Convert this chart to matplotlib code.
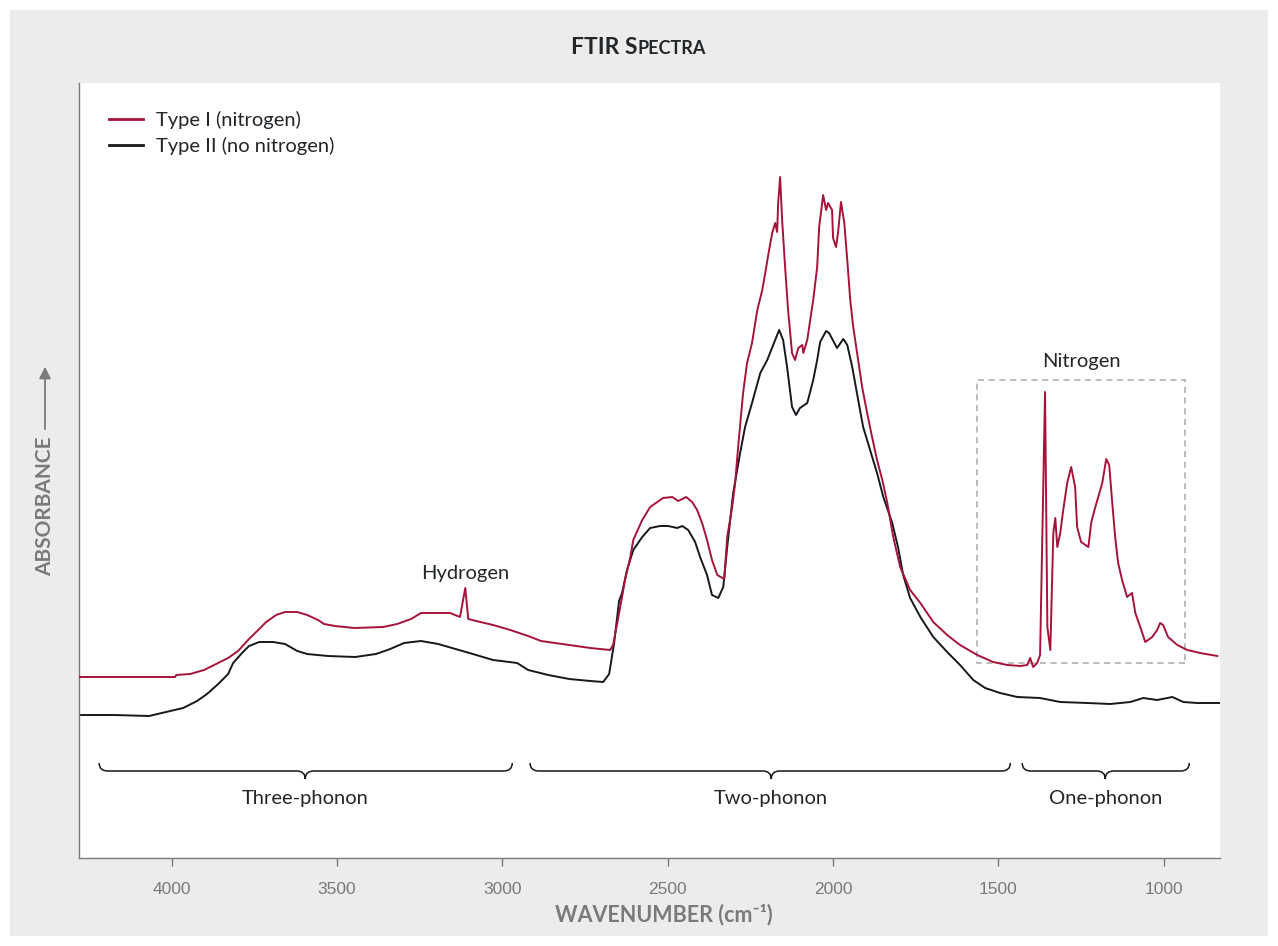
import matplotlib
matplotlib.use("Agg")
import matplotlib.pyplot as plt
from matplotlib.path import Path
from matplotlib.patches import PathPatch, Rectangle, FancyArrowPatch

# data (wavenumber in cm-1, absorbance in arbitrary units)
type1_wn = [4277, 3989, 3986, 3944, 3902, 3859, 3829, 3799, 3766, 3735, 3714, 3684, 3657, 3620,
            3590, 3557, 3539, 3506, 3448, 3360, 3318, 3276, 3246, 3158, 3128, 3112, 3103, 3079,
            3028, 2976, 2922, 2883, 2819, 2734, 2674, 2665, 2644, 2629, 2613, 2604, 2577, 2553,
            2514, 2486, 2468, 2444, 2426, 2411, 2396, 2381, 2366, 2350, 2329, 2320, 2305, 2296,
            2287, 2272, 2260, 2245, 2229, 2214, 2205, 2196, 2184, 2175, 2169, 2166, 2160, 2154,
            2145, 2136, 2124, 2115, 2105, 2093, 2090, 2078, 2069, 2060, 2048, 2042, 2030, 2021,
            2015, 2003, 2000, 1991, 1985, 1976, 1966, 1957, 1948, 1939, 1924, 1912, 1897, 1882,
            1867, 1851, 1836, 1818, 1797, 1767, 1736, 1697, 1655, 1616, 1564, 1516, 1473, 1434,
            1413, 1404, 1395, 1383, 1374, 1359, 1352, 1343, 1334, 1328, 1322, 1313, 1304, 1292,
            1280, 1268, 1262, 1250, 1228, 1219, 1207, 1198, 1186, 1174, 1165, 1156, 1147, 1138,
            1126, 1111, 1096, 1086, 1071, 1056, 1035, 1020, 1011, 1002, 987, 959, 929, 890, 838]
type1_abs = [1.81, 1.81, 1.83, 1.84, 1.88, 1.95, 2.00, 2.07, 2.19, 2.29, 2.36, 2.43, 2.46, 2.46,
             2.43, 2.38, 2.34, 2.32, 2.30, 2.31, 2.34, 2.39, 2.45, 2.45, 2.41, 2.70, 2.39, 2.37,
             2.33, 2.28, 2.22, 2.17, 2.14, 2.10, 2.08, 2.13, 2.50, 2.78, 3.01, 3.18, 3.38, 3.51,
             3.60, 3.61, 3.57, 3.61, 3.56, 3.48, 3.35, 3.18, 2.98, 2.83, 2.79, 3.21, 3.51, 3.75,
             4.11, 4.65, 4.95, 5.15, 5.48, 5.68, 5.85, 6.03, 6.25, 6.35, 6.26, 6.55, 6.81, 6.38,
             5.91, 5.48, 5.05, 4.98, 5.10, 5.13, 5.05, 5.18, 5.38, 5.58, 5.91, 6.31, 6.63, 6.48,
             6.55, 6.48, 6.20, 6.11, 6.25, 6.56, 6.35, 5.98, 5.58, 5.31, 4.98, 4.71, 4.45, 4.21,
             3.98, 3.78, 3.55, 3.21, 2.91, 2.68, 2.55, 2.36, 2.23, 2.13, 2.03, 1.96, 1.93, 1.92,
             1.93, 2.00, 1.91, 1.95, 2.03, 4.66, 2.31, 2.08, 3.25, 3.40, 3.11, 3.25, 3.48, 3.75,
             3.91, 3.71, 3.31, 3.16, 3.11, 3.36, 3.51, 3.61, 3.75, 3.99, 3.93, 3.56, 3.21, 2.95,
             2.78, 2.61, 2.65, 2.45, 2.31, 2.16, 2.21, 2.28, 2.35, 2.33, 2.21, 2.13, 2.08, 2.05, 2.02]

type2_wn = [4277, 4174, 4068, 4017, 3965, 3923, 3893, 3859, 3829, 3814, 3787, 3766, 3735, 3693,
            3657, 3620, 3590, 3527, 3445, 3382, 3339, 3297, 3246, 3194, 3131, 3079, 3028, 2955,
            2922, 2861, 2798, 2734, 2695, 2677, 2662, 2647, 2638, 2623, 2604, 2577, 2553, 2523,
            2499, 2471, 2456, 2438, 2417, 2402, 2381, 2366, 2347, 2332, 2320, 2302, 2281, 2266,
            2245, 2220, 2199, 2181, 2163, 2151, 2139, 2124, 2112, 2100, 2078, 2060, 2048, 2039,
            2021, 2012, 1988, 1969, 1957, 1942, 1924, 1909, 1888, 1867, 1848, 1821, 1803, 1788,
            1767, 1736, 1697, 1655, 1616, 1576, 1540, 1495, 1443, 1374, 1313, 1231, 1162, 1101,
            1062, 1020, 974, 941, 899, 829]
type2_abs = [1.43, 1.43, 1.42, 1.46, 1.50, 1.57, 1.64, 1.74, 1.84, 1.95, 2.05, 2.12, 2.16, 2.16,
             2.14, 2.07, 2.04, 2.02, 2.01, 2.04, 2.09, 2.15, 2.17, 2.14, 2.08, 2.03, 1.98, 1.95,
             1.88, 1.83, 1.79, 1.77, 1.76, 1.84, 2.15, 2.57, 2.65, 2.88, 3.08, 3.21, 3.30, 3.32,
             3.32, 3.30, 3.32, 3.28, 3.16, 3.01, 2.83, 2.63, 2.60, 2.71, 3.11, 3.65, 4.05, 4.31,
             4.55, 4.85, 4.98, 5.13, 5.28, 5.18, 4.91, 4.51, 4.43, 4.50, 4.55, 4.78, 4.98, 5.16,
             5.27, 5.25, 5.10, 5.19, 5.13, 4.91, 4.58, 4.31, 4.08, 3.85, 3.61, 3.35, 3.10, 2.83,
             2.60, 2.41, 2.21, 2.06, 1.93, 1.78, 1.70, 1.65, 1.61, 1.60, 1.56, 1.55, 1.54, 1.56,
             1.60, 1.58, 1.61, 1.56, 1.55, 1.55]

series_labels = ["Type I (nitrogen)", "Type II (no nitrogen)"]

# phonon regions: (label, high wn, low wn, centre)
regions = [("Three-phonon", 4219, 2970, 3596),
           ("Two-phonon", 2916, 1464, 2187),
           ("One-phonon", 1428, 923, 1177)]

nitrogen_box = (1564, 935, 1.95, 4.78)   # wn high, wn low, abs low, abs high
hydrogen_peak = (3112, 2.70)

RED = "#a6133a"
BLACK = "#15181c"
GREY = "#7a7a7a"
BG = "#ececec"
TXT = "#222629"
FONT = ["Lato", "DejaVu Sans"]

plt.rcParams["font.family"] = FONT

fig = plt.figure(figsize=(12.78, 9.46), dpi=100)
fig.patch.set_facecolor("white")
fig.patches.append(Rectangle((10 / 1278, 10 / 946), 1258 / 1278, 926 / 946,
                             transform=fig.transFigure, facecolor=BG, edgecolor="none", zorder=-10))

ax = fig.add_axes([79 / 1278, 88 / 946, 1141 / 1278, 775 / 946])
ax.set_facecolor("white")

ax.plot(type1_wn, type1_abs, color=RED, lw=1.4, label=series_labels[0], zorder=3)
ax.plot(type2_wn, type2_abs, color=BLACK, lw=1.4, label=series_labels[1], zorder=2)

ax.set_xlim(4280, 830)
ax.set_ylim(0, 7.75)

for s in ["top", "right"]:
    ax.spines[s].set_visible(False)
for s in ["left", "bottom"]:
    ax.spines[s].set_color(GREY)
    ax.spines[s].set_linewidth(1.0)
ax.set_yticks([])
ax.set_xticks([4000, 3500, 3000, 2500, 2000, 1500, 1000])
ax.tick_params(axis="x", colors=GREY, length=6, width=1, labelsize=12.5, pad=11)
for t in ax.get_xticklabels():
    t.set_fontfamily(["Liberation Sans", "DejaVu Sans"])

leg = ax.legend(loc="upper left", bbox_to_anchor=(0.009, 0.99), frameon=False, fontsize=14.5,
                handlelength=1.65, handletextpad=0.65, labelspacing=0.4, borderaxespad=0.6)
for t in leg.get_texts():
    t.set_color(TXT)
for h in leg.get_lines():
    h.set_linewidth(2.0)


def brace(x_hi, x_lo, x_mid, y, h=0.08, rx=26):
    verts = [(x_hi, y + h), (x_hi, y), (x_hi - rx, y),
             (x_mid + rx, y), (x_mid, y), (x_mid, y - h),
             (x_mid, y), (x_mid - rx, y),
             (x_lo + rx, y), (x_lo, y), (x_lo, y + h)]
    codes = [Path.MOVETO, Path.CURVE3, Path.CURVE3,
             Path.LINETO, Path.CURVE3, Path.CURVE3,
             Path.CURVE3, Path.CURVE3,
             Path.LINETO, Path.CURVE3, Path.CURVE3]
    ax.add_patch(PathPatch(Path(verts, codes), facecolor="none", edgecolor=BLACK, lw=1.1))


for name, hi, lo, mid in regions:
    brace(hi, lo, mid, 0.87)
    ax.text(mid, 0.60, name, ha="center", va="center", fontsize=14.5, color=TXT)

bx_hi, bx_lo, by_lo, by_hi = nitrogen_box
ax.add_patch(Rectangle((bx_lo, by_lo), bx_hi - bx_lo, by_hi - by_lo, fill=False,
                       edgecolor="#aaaaaa", lw=1.1, ls=(0, (4, 3))))
ax.text((bx_hi + bx_lo) / 2, by_hi + 0.18, "Nitrogen", ha="center", va="center",
        fontsize=14.5, color=TXT)
ax.text(hydrogen_peak[0], hydrogen_peak[1] + 0.15, "Hydrogen", ha="center", va="center",
        fontsize=14.5, color=TXT)

# title in small caps
fig.text(0.4985, 1 - 48 / 946, "FTIR S", ha="right", va="center", fontsize=16.5,
         fontweight="bold", color=TXT)
fig.text(0.4985, 1 - 48 / 946, "PECTRA", ha="left", va="center", fontsize=13,
         fontweight="bold", color=TXT)

fig.text(664 / 1278, 1 - 915 / 946, "WAVENUMBER (cm\u207b\u00b9)", ha="center", va="center",
         fontsize=15.5, fontweight="bold", color=GREY)
fig.text(45 / 1278, 1 - 506 / 946, "ABSORBANCE", ha="center", va="center", rotation=90,
         fontsize=15, fontweight="bold", color=GREY)
fig.patches.append(FancyArrowPatch(
    (45 / 1278, 1 - 432 / 946), (45 / 1278, 1 - 364 / 946), transform=fig.transFigure,
    arrowstyle="-|>,head_length=7,head_width=3.5", color=GREY, lw=1.3))

fig.savefig("out.png", dpi=100, facecolor=fig.get_facecolor())
